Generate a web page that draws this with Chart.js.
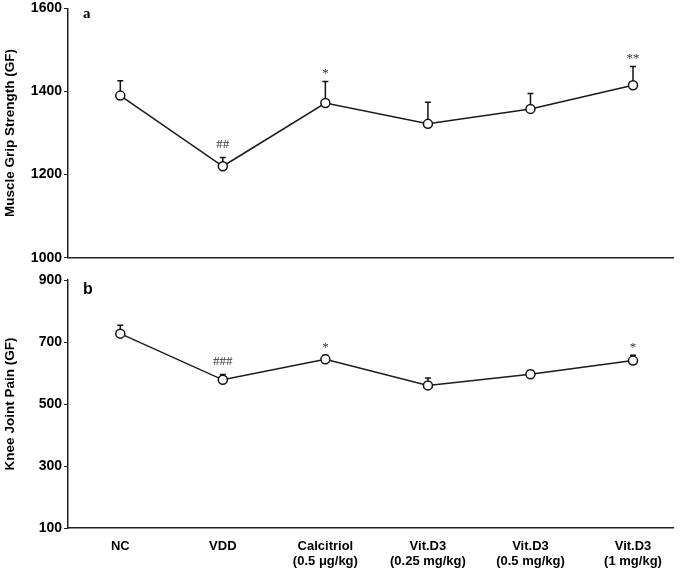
<!DOCTYPE html>
<html>
<head>
<meta charset="utf-8">
<script src="https://cdn.jsdelivr.net/npm/chart.js@4"></script>
<style>
body { margin: 0; background: #fff; }
canvas { position: absolute; left: 0; }
#gripChart { top: 0; }
#painChart { top: 262px; }
</style>
</head>
<body>
<canvas id="gripChart" width="685" height="266"></canvas>
<canvas id="painChart" width="685" height="306"></canvas>
<script>
const groups = [['NC'], ['VDD'], ['Calcitriol', '(0.5 μg/kg)'], ['Vit.D3', '(0.25 mg/kg)'], ['Vit.D3', '(0.5 mg/kg)'], ['Vit.D3', '(1 mg/kg)']];

const gripMean = [1390, 1220, 1372, 1322, 1358, 1415];
const gripErr = [36, 21, 52, 52, 37, 45];
const gripMarks = ['', '##', '*', '', '', '**'];
const gripTicks = [1000, 1200, 1400, 1600];

const painMean = [727, 578, 644, 560, 596, 640];
const painErr = [27, 17, 13, 24, 12, 17];
const painMarks = ['', '###', '*', '', '', '*'];
const painTicks = [100, 300, 500, 700, 900];

const sans = '"Liberation Sans", Arial, sans-serif';
const serif = '"Liberation Serif", "Times New Roman", serif';

// upper whiskers only, drawn under the open circles
const errorBars = {
    id: 'errorBars',
    beforeDatasetsDraw(chart, args, opts) {
        const { ctx, scales: { x, y } } = chart;
        ctx.save();
        ctx.strokeStyle = '#111';
        ctx.lineWidth = 1.5;
        opts.means.forEach((m, i) => {
            const px = x.getPixelForValue(i);
            const y0 = y.getPixelForValue(m);
            const y1 = y.getPixelForValue(m + opts.errors[i]);
            ctx.beginPath();
            ctx.moveTo(px, y0);
            ctx.lineTo(px, y1);
            ctx.moveTo(px - 3, y1);
            ctx.lineTo(px + 3, y1);
            ctx.stroke();
        });
        ctx.restore();
    }
};

// significance marks + panel letter
const panelText = {
    id: 'panelText',
    afterDatasetsDraw(chart, args, opts) {
        const { ctx, chartArea, scales: { x, y } } = chart;
        ctx.save();
        ctx.textAlign = 'center';
        ctx.textBaseline = 'alphabetic';
        ctx.fillStyle = '#333';
        ctx.font = '13px ' + serif;
        opts.marks.forEach((mk, i) => {
            if (!mk) return;
            const px = x.getPixelForValue(i);
            const top = y.getPixelForValue(opts.means[i] + opts.errors[i]);
            const off = mk[0] === '#' ? 10 : 4;
            ctx.fillText(mk, px, top - off);
        });
        ctx.fillStyle = '#000';
        ctx.textAlign = 'left';
        ctx.textBaseline = 'middle';
        ctx.font = opts.letterFont;
        ctx.fillText(opts.letter, chartArea.left + 15, chartArea.top + opts.letterDy);
        ctx.restore();
    }
};

function makePanel(id, means, errors, marks, ticks, title, letter, letterFont, letterDy, showX, padTop) {
    return new Chart(document.getElementById(id), {
        type: 'line',
        data: {
            datasets: [{
                data: means.map((m, i) => ({ x: i, y: m })),
                borderColor: '#1a1a1a',
                borderWidth: 1.5,
                pointRadius: 4.5,
                pointBorderWidth: 1.5,
                pointBackgroundColor: '#fff',
                pointBorderColor: '#111',
                tension: 0
            }]
        },
        options: {
            responsive: false,
            animation: false,
            layout: { padding: { top: padTop, right: 12, left: 0, bottom: 0 } },
            plugins: {
                legend: { display: false },
                tooltip: { enabled: false },
                errorBars: { means: means, errors: errors },
                panelText: { means: means, errors: errors, marks: marks, letter: letter, letterFont: letterFont, letterDy: letterDy }
            },
            scales: {
                x: {
                    type: 'linear',
                    min: -0.51,
                    max: 5.39,
                    afterBuildTicks: (s) => { s.ticks = groups.map((g, i) => ({ value: i })); },
                    afterFit: (s) => { s.height = showX ? 40 : 0; },
                    grid: { display: true, drawOnChartArea: false, drawTicks: false },
                    border: { display: true, color: '#222', width: 1.5 },
                    ticks: {
                        display: showX,
                        autoSkip: false,
                        maxRotation: 0,
                        padding: 11,
                        color: '#000',
                        font: { family: sans, size: 13, weight: 'bold', lineHeight: 1.15 },
                        callback: (v) => groups[v] || ''
                    }
                },
                y: {
                    min: ticks[0],
                    max: ticks[ticks.length - 1],
                    afterBuildTicks: (s) => { s.ticks = ticks.map(v => ({ value: v })); },
                    afterFit: (s) => { s.width = 68; },
                    grid: { display: true, drawOnChartArea: false, drawTicks: true, tickLength: 4, color: '#222' },
                    border: { display: true, color: '#222', width: 1.5 },
                    ticks: {
                        padding: 2,
                        color: '#000',
                        font: { family: sans, size: 14, weight: 'bold', lineHeight: 0.9 },
                        callback: (v) => String(v)
                    },
                    title: {
                        display: true,
                        text: title,
                        color: '#000',
                        padding: { top: 2, bottom: 0 },
                        font: { family: sans, size: 13.5, weight: 'bold' }
                    }
                }
            }
        },
        plugins: [errorBars, panelText]
    });
}

makePanel('gripChart', gripMean, gripErr, gripMarks, gripTicks, 'Muscle Grip Strength (GF)', 'a', 'bold 15px ' + serif, 6, false, 0);
makePanel('painChart', painMean, painErr, painMarks, painTicks, 'Knee Joint Pain (GF)', 'b', 'bold 16px ' + sans, 10, true, 18);
</script>
</body>
</html>
